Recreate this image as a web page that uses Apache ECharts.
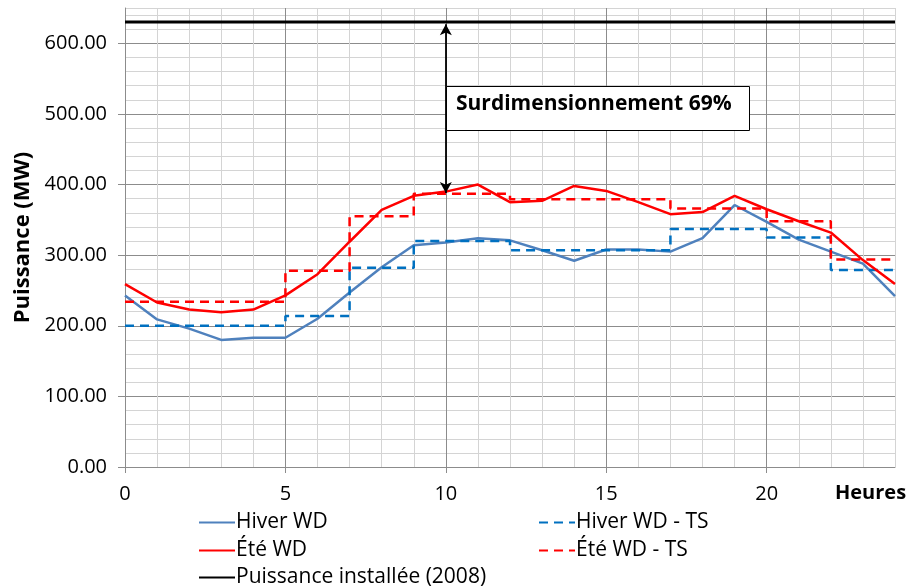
<!DOCTYPE html>
<html>
<head>
<meta charset="utf-8">
<script src="https://cdn.jsdelivr.net/npm/echarts@6/dist/echarts.min.js"></script>
<style>
  html, body { margin: 0; padding: 0; background: #fff; }
  #chart { width: 910px; height: 587px; }
</style>
</head>
<body>
<div id="chart"></div>
<script>
// heures de la journée
const hours = [0, 1, 2, 3, 4, 5, 6, 7, 8, 9, 10, 11, 12, 13, 14, 15, 16, 17, 18, 19, 20, 21, 22, 23, 24];
const hiverWD = [243, 209, 196, 180, 183, 183, 210, 247, 283, 314, 318, 324, 321, 307, 292, 308, 308, 305, 324, 371, 347, 322, 305, 288, 242];
const eteWD = [259, 233, 223, 219, 223, 243, 273, 319, 364, 384, 390, 400, 375, 377, 398, 391, 375, 358, 361, 384, 365, 348, 332, 293, 259];
// tranches tarifaires (TS) : début de chaque palier
const tsHours = [0, 5, 7, 9, 12, 17, 20, 22, 24];
const hiverTS = [200, 214, 282, 320, 307, 337, 325, 279, 279];
const eteTS = [234, 278, 355, 387, 379, 366, 348, 294, 294];
const installedPower = 630;
const arrowBottom = 388;
const arrowHour = 10;

const FONT = "'Open Sans', 'Liberation Sans', sans-serif";
const MAJOR = '#8c8c8c';
const MINOR = '#d4d4d4';
const gridColors = [MAJOR, MINOR, MINOR, MINOR, MINOR];

const zip = (xs, ys) => xs.map((x, i) => [x, ys[i]]);

// une légende par entrée : deux colonnes comme dans Excel
const legendItem = (name, left, top) => ({
  left, top, orient: 'vertical',
  itemWidth: 36, itemHeight: 20,
  itemStyle: { opacity: 0 },
  textStyle: { fontFamily: FONT, fontSize: 21, color: '#000', padding: [0, 0, 0, -4] },
  data: [name],
});

const chart = echarts.init(document.getElementById('chart'));

let option = {
  animation: false,
  grid: { left: 125, right: 15, top: 8, bottom: 120, containLabel: false },
  legend: [
    legendItem('Hiver WD', 193, 507),
    legendItem('Été WD', 193, 535),
    legendItem('Puissance installée (2008)', 193, 562),
    legendItem('Hiver WD - TS', 533, 507),
    legendItem('Été WD - TS', 533, 535),
  ],
  xAxis: [
    {
      type: 'value', min: 0, max: 24, interval: 1,
      axisLine: { show: false }, axisTick: { show: false }, axisLabel: { show: false },
      splitLine: { show: true, lineStyle: { color: gridColors, width: 1 } },
    },
    {
      type: 'value', min: 0, max: 24, interval: 5, position: 'bottom', offset: 0,
      axisLine: { show: true, onZero: false, lineStyle: { color: MAJOR, width: 1 } },
      axisTick: { show: true, length: 6, lineStyle: { color: MAJOR } },
      axisLabel: {
        fontFamily: FONT, fontSize: 20, color: '#000', margin: 17,
        showMaxLabel: false,
        formatter: (v) => (v % 5 === 0 ? String(v) : ''),
      },
      splitLine: { show: false },
    },
  ],
  yAxis: [
    {
      type: 'value', min: 0, max: 650, interval: 20,
      axisLine: { show: false }, axisTick: { show: false }, axisLabel: { show: false },
      splitLine: { show: true, lineStyle: { color: gridColors, width: 1 } },
    },
    {
      type: 'value', min: 0, max: 650, interval: 100, position: 'left', offset: 0,
      name: 'Puissance (MW)', nameLocation: 'middle', nameGap: 90,
      nameTextStyle: { fontFamily: FONT, fontSize: 22, fontWeight: 'bold', color: '#000' },
      axisLine: { show: true, onZero: false, lineStyle: { color: MAJOR, width: 1 } },
      axisTick: { show: true, length: 7, lineStyle: { color: MAJOR } },
      axisLabel: {
        fontFamily: FONT, fontSize: 20, color: '#000', margin: 18,
        showMaxLabel: false,
        formatter: (v) => (v % 100 === 0 ? v.toFixed(2) : ''),
      },
      splitLine: { show: false },
    },
  ],
  series: [
    {
      name: 'Hiver WD', type: 'line', showSymbol: false, symbol: 'none',
      color: '#4F81BD', lineStyle: { color: '#4F81BD', width: 2.5 },
      data: zip(hours, hiverWD),
    },
    {
      name: 'Hiver WD - TS', type: 'line', showSymbol: false, symbol: 'none', step: 'end',
      color: '#0070C0', lineStyle: { color: '#0070C0', width: 2.5, type: [9, 6] },
      data: zip(tsHours, hiverTS),
    },
    {
      name: 'Été WD', type: 'line', showSymbol: false, symbol: 'none',
      color: '#FF0000', lineStyle: { color: '#FF0000', width: 2.5 },
      data: zip(hours, eteWD),
    },
    {
      name: 'Été WD - TS', type: 'line', showSymbol: false, symbol: 'none', step: 'end',
      color: '#FF0000', lineStyle: { color: '#FF0000', width: 2.5, type: [9, 6] },
      data: zip(tsHours, eteTS),
    },
    {
      name: 'Puissance installée (2008)', type: 'line', showSymbol: false, symbol: 'none',
      color: '#000', lineStyle: { color: '#000', width: 3 },
      data: [[0, installedPower], [24, installedPower]],
      markLine: {
        silent: true,
        symbol: ['arrow', 'arrow'],
        symbolSize: [9, 11],
        label: { show: false },
        lineStyle: { color: '#000', width: 1.8, type: 'solid' },
        data: [[{ coord: [arrowHour, installedPower - 3] }, { coord: [arrowHour, arrowBottom] }]],
      },
    },
  ],
  graphic: [
    {
      type: 'rect', left: 446, top: 86, z: 100,
      shape: { width: 303, height: 44 },
      style: { fill: '#fff', stroke: '#000', lineWidth: 1 },
    },
    {
      type: 'text', left: 456, top: 94, z: 101,
      style: { text: 'Surdimensionnement 69%', font: "bold 21px 'Open Sans', sans-serif", fill: '#000' },
    },
    {
      type: 'text', left: 835, top: 483,
      style: { text: 'Heures', font: "bold 20px 'Open Sans', sans-serif", fill: '#000' },
    },
  ],
};
chart.setOption(option);
</script>
</body>
</html>
